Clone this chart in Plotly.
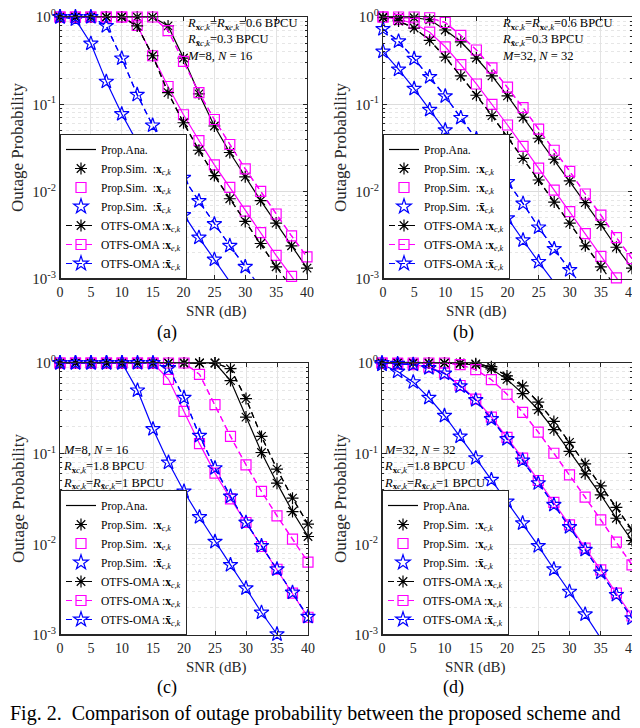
import plotly.graph_objects as go

# SNR grid (dB)
snr = [0, 2.5, 5, 7.5, 10, 12.5, 15, 17.5, 20, 22.5, 25, 27.5, 30, 32.5, 35, 37.5, 40]

# (a) M=8, N=16, low rates
a_prop_c = [1, 1, 1, 1, 1, 1, 1, 0.79, 0.339, 0.132, 0.0565, 0.0281, 0.0148, 0.0079, 0.00437, 0.0024, 0.00133]
a_prop_e = [1, 1, 1, 1, 1, 0.80, 0.36, 0.16, 0.076, 0.0385, 0.0203, 0.0112, 0.006, 0.00339, 0.00186, 0.00107, 0.00062]
a_prop_cb = [1, 0.94, 0.497, 0.182, 0.0774, 0.0369, 0.019, 0.0103, 0.0054, 0.00298, 0.00167, 0.00093, 0.0006, None, None, None, None]
a_oma_c = [1, 1, 1, 1, 1, 0.79, 0.36, 0.136, 0.0615, 0.0298, 0.0153, 0.0083, 0.00456, 0.00255, 0.00138, 0.0008, None]
a_oma_e = [1, 1, 1, 1, 1, 1, 1, 0.70, 0.311, 0.136, 0.067, 0.0347, 0.0182, 0.0101, 0.00555, 0.00311, 0.00179]
a_oma_cb = [1, 1, 1, 0.79, 0.336, 0.129, 0.0574, 0.0281, 0.0144, 0.00781, 0.00426, 0.0024, 0.00138, 0.00079, None, None, None]

# (b) M=32, N=32, low rates
b_prop_c = [1, 0.98, 0.98, 0.93, 0.71, 0.52, 0.339, 0.212, 0.125, 0.0711, 0.0409, 0.0235, 0.0133, 0.00748, 0.00419, 0.00231, 0.00133]
b_prop_e = [1, 0.94, 0.843, 0.67, 0.456, 0.285, 0.171, 0.1, 0.058, 0.033, 0.0186, 0.0104, 0.0059, 0.0033, 0.00182, 0.00103, 0.00058]
b_prop_cb = [0.402, 0.251, 0.151, 0.0865, 0.0506, 0.0286, 0.0164, 0.009, 0.00497, 0.00278, 0.00157, 0.00091, 0.00053, None, None, None, None]
b_oma_c = [0.98, 0.90, 0.748, 0.541, 0.347, 0.212, 0.127, 0.0742, 0.0419, 0.0241, 0.0136, 0.0076, 0.00437, 0.0024, 0.00138, 0.00079, None]
b_oma_e = [1, 1, 1, 0.98, 0.865, 0.615, 0.419, 0.262, 0.157, 0.0918, 0.0519, 0.0298, 0.0171, 0.0094, 0.0054, 0.00298, 0.00171]
b_oma_cb = [0.73, 0.527, 0.333, 0.206, 0.124, 0.07, 0.0402, 0.0231, 0.0129, 0.0073, 0.0039, 0.00221, 0.00127, 0.00074, None, None, None]

# (c) M=8, N=16, high rates
c_prop_c = [1, 1, 1, 1, 1, 1, 1, 1, 1, 1, 1, 0.64, 0.253, 0.103, 0.0473, 0.023, 0.0122]
c_prop_e = [1, 1, 1, 1, 1, 1, 1, 0.66, 0.293, 0.129, 0.061, 0.0318, 0.0174, 0.00946, 0.00531, 0.00289, 0.00157]
c_prop_cb = [1, 1, 1, 1, 1, 0.499, 0.187, 0.08, 0.0383, 0.02, 0.0107, 0.00593, 0.00328, 0.00177, 0.00102, 0.00056, None]
c_oma_c = [1, 1, 1, 1, 1, 1, 1, 1, 1, 1, 1, 0.865, 0.405, 0.155, 0.0676, 0.0323, 0.0167]
c_oma_e = [1, 1, 1, 1, 1, 1, 1, 1, 1, 0.75, 0.347, 0.155, 0.0754, 0.0383, 0.0206, 0.0114, 0.00635]
c_oma_cb = [1, 1, 1, 1, 1, 1, 1, 0.88, 0.414, 0.158, 0.0693, 0.0337, 0.0174, 0.0096, 0.00531, 0.00294, 0.00159]

# (d) M=32, N=32, high rates
d_prop_c = [1, 1, 1, 1, 1, 0.98, 0.96, 0.86, 0.66, 0.46, 0.305, 0.184, 0.106, 0.06, 0.0352, 0.0194, 0.011]
d_prop_e = [1, 0.98, 0.96, 0.90, 0.776, 0.565, 0.40, 0.253, 0.151, 0.0893, 0.0506, 0.029, 0.0164, 0.00906, 0.00522, 0.00289, 0.00162]
d_prop_cb = [0.96, 0.805, 0.615, 0.414, 0.262, 0.155, 0.0893, 0.0515, 0.0297, 0.0171, 0.0096, 0.00531, 0.00301, 0.00169, 0.00092, 0.00055, None]
d_oma_c = [1, 1, 1, 1, 1, 1, 0.98, 0.91, 0.72, 0.56, 0.37, 0.227, 0.133, 0.0773, 0.0442, 0.0255, 0.0144]
d_oma_e = [1, 1, 1, 1, 1, 0.96, 0.844, 0.655, 0.452, 0.285, 0.173, 0.101, 0.0585, 0.0331, 0.0186, 0.0106, 0.00593]
d_oma_cb = [1, 0.98, 0.96, 0.88, 0.765, 0.555, 0.39, 0.241, 0.145, 0.0842, 0.0473, 0.0273, 0.0155, 0.0087, 0.00489, 0.00277, 0.00153]

ytick_vals = [1e-3, 1e-2, 1e-1, 1]
ytick_text = ["10<sup>-3</sup>", "10<sup>-2</sup>", "10<sup>-1</sup>", "10<sup>0</sup>"]

FONT = "Liberation Serif"
BLACK, MAG, BLUE = "#000000", "#FF00FF", "#0000FF"
DASH = "6px,4px"
GREY = "#262626"

lbl_c = "<b>x</b><sub><i>c,k</i></sub>"
lbl_e = "<b>x</b><sub><i>e,k</i></sub>"
lbl_cb = "<b>x\u0304</b><sub><i>c,k</i></sub>"

fig = go.Figure()


def visible(xs, ys):
    # markers only where the value lies inside the y range
    px, py = [], []
    for x, y in zip(xs, ys):
        if y is not None and y >= 0.00095:
            px.append(x)
            py.append(y)
    return px, py


def add_panel(n, prop_c, prop_e, prop_cb, oma_c, oma_e, oma_cb):
    ax = "" if n == 1 else str(n)
    common = dict(xaxis="x" + ax, yaxis="y" + ax, legend="legend" + ax)

    # full curves, clipped by the axes (no legend)
    for ys, col in [(prop_e, MAG), (prop_cb, BLUE)]:
        fig.add_trace(go.Scatter(x=snr, y=ys, mode="lines", line=dict(color=col, width=1.2),
                                 showlegend=False, **common))
    for ys, col in [(oma_c, BLACK), (oma_e, MAG), (oma_cb, BLUE)]:
        fig.add_trace(go.Scatter(x=snr, y=ys, mode="lines", line=dict(color=col, width=1.2, dash=DASH),
                                 showlegend=False, **common))

    fig.add_trace(go.Scatter(x=snr, y=prop_c, mode="lines", name="Prop.Ana.",
                             line=dict(color=BLACK, width=1.2), **common))

    sims = [(prop_c, BLACK, "asterisk-open", 10, "Prop.Sim.  :" + lbl_c),
            (prop_e, MAG, "square-open", 10, "Prop.Sim.  :" + lbl_e),
            (prop_cb, BLUE, "star-open", 11, "Prop.Sim.  :" + lbl_cb)]
    for ys, col, sym, sz, name in sims:
        px, py = visible(snr, ys)
        fig.add_trace(go.Scatter(x=px, y=py, mode="markers", name=name, cliponaxis=False,
                                 marker=dict(symbol=sym, size=sz, color=col, line=dict(color=col, width=1.2)),
                                 **common))

    omas = [(oma_c, BLACK, "asterisk-open", 10, "OTFS-OMA :" + lbl_c),
            (oma_e, MAG, "square-open", 10, "OTFS-OMA :" + lbl_e),
            (oma_cb, BLUE, "star-open", 11, "OTFS-OMA :" + lbl_cb)]
    for ys, col, sym, sz, name in omas:
        px, py = visible(snr, ys)
        fig.add_trace(go.Scatter(x=px, y=py, mode="lines+markers", name=name, cliponaxis=False,
                                 line=dict(color=col, width=1.2, dash=DASH),
                                 marker=dict(symbol=sym, size=sz, color=col, line=dict(color=col, width=1.2)),
                                 **common))


add_panel(1, a_prop_c, a_prop_e, a_prop_cb, a_oma_c, a_oma_e, a_oma_cb)
add_panel(2, b_prop_c, b_prop_e, b_prop_cb, b_oma_c, b_oma_e, b_oma_cb)
add_panel(3, c_prop_c, c_prop_e, c_prop_cb, c_oma_c, c_oma_e, c_oma_cb)
add_panel(4, d_prop_c, d_prop_e, d_prop_cb, d_oma_c, d_oma_e, d_oma_cb)

# the page body adds an 8px margin, so the figure is 8px smaller and shifted
OFF = 8
W, H = 640 - OFF, 728 - OFF


def fx(x):
    return (x - OFF) / W


def fy(y):
    return 1 - (y - OFF) / H


panels = {
    1: dict(x=(60, 307), y=(17, 279)),
    2: dict(x=(383, 632), y=(17, 279)),
    3: dict(x=(60, 308), y=(363, 635)),
    4: dict(x=(382, 632), y=(363, 635)),
}

layout = dict(
    width=W, height=H, margin=dict(l=0, r=0, t=0, b=0, autoexpand=False),
    paper_bgcolor="white", plot_bgcolor="white",
    font=dict(family=FONT, size=13, color=GREY),
    annotations=[],
)

for n, p in panels.items():
    ax = "" if n == 1 else str(n)
    x0, x1 = p["x"]
    y0, y1 = p["y"]
    layout["xaxis" + ax] = dict(
        domain=[fx(x0), fx(x1)], anchor="y" + ax, range=[0, 40], tick0=0, dtick=5,
        showgrid=True, gridcolor="#E3E3E3", gridwidth=1, zeroline=False,
        showline=True, linecolor=GREY, linewidth=1, mirror="ticks",
        ticks="inside", ticklen=4, tickcolor=GREY, ticklabeloverflow="allow",
        tickfont=dict(family=FONT, size=14, color=GREY),
    )
    layout["yaxis" + ax] = dict(
        domain=[fy(y1), fy(y0)], anchor="x" + ax, type="log", range=[-3, 0],
        tickvals=ytick_vals, ticktext=ytick_text, ticklabeloverflow="allow",
        showgrid=True, gridcolor="#DCDCDC", gridwidth=1, zeroline=False,
        showline=True, linecolor=GREY, linewidth=1, mirror="ticks",
        ticks="inside", ticklen=4, tickcolor=GREY,
        tickfont=dict(family=FONT, size=15, color=GREY),
        minor=dict(dtick="D1", ticks="inside", ticklen=2, tickcolor=GREY,
                   showgrid=True, gridcolor="#E6E6E6", griddash="dot"),
    )
    layout["legend" + ax] = dict(
        x=fx(x0), y=fy(y1), xanchor="left", yanchor="bottom",
        bgcolor="white", bordercolor=GREY, borderwidth=1,
        font=dict(family=FONT, size=11.5, color="#000000"),
        itemwidth=30, tracegroupgap=0,
    )
    layout["annotations"].append(dict(
        x=fx((x0 + x1) / 2), y=fy(y1 + 32), xref="paper", yref="paper",
        yanchor="middle", text="SNR (dB)", showarrow=False,
        font=dict(family=FONT, size=15, color=GREY)))
    layout["annotations"].append(dict(
        x=fx(x0 - 42), y=fy((y0 + y1) / 2), xref="paper", yref="paper",
        xanchor="center", yanchor="middle",
        text="Outage Probability", textangle=-90, showarrow=False,
        font=dict(family=FONT, size=17, color=GREY)))

# sub-figure labels
for txt, xc, yc in [("(a)", 155, 333), ("(b)", 476, 333), ("(c)", 155, 687), ("(d)", 466, 687)]:
    layout["annotations"].append(dict(x=fx(xc), y=fy(yc), xref="paper", yref="paper",
                                      yanchor="middle", text=txt, showarrow=False,
                                      font=dict(family=FONT, size=18, color="#000000")))

# parameter notes (one text block per panel)
R = "<i>R</i>"
notes_top = [
    R + "<sub><b>x</b><i>c,k</i></sub>=" + R + "<sub><b>x</b><i>e,k</i></sub>=0.6 BPCU",
    R + "<sub><b>x\u0304</b><i>c,k</i></sub>=0.3 BPCU",
]
notes_bot = [
    R + "<sub><b>x</b><i>c,k</i></sub>=1.8 BPCU",
    R + "<sub><b>x</b><i>e,k</i></sub>=" + R + "<sub><b>x\u0304</b><i>c,k</i></sub>=1 BPCU",
]
placements = [
    (185, 40, notes_top + ["<i>M</i>=8, <i>N</i> = 16"]),
    (500, 40, notes_top + ["<i>M</i>=32, <i>N</i> = 32"]),
    (61, 467, ["<i>M</i>=8, <i>N</i> = 16"] + notes_bot),
    (382, 467, ["<i>M</i>=32, <i>N</i> = 32"] + notes_bot),
]
for xl, yc, texts in placements:
    layout["annotations"].append(dict(x=fx(xl), y=fy(yc), xref="paper", yref="paper",
                                      xanchor="left", yanchor="middle", align="left",
                                      text="<br>".join(texts), showarrow=False,
                                      font=dict(family=FONT, size=12.5, color="#000000")))

# caption
layout["annotations"].append(dict(
    x=0, y=fy(713), xref="paper", yref="paper", xanchor="left", yanchor="middle",
    text="Fig. 2.  Comparison of outage probability between the proposed scheme and",
    showarrow=False, font=dict(family=FONT, size=20, color="#000000")))

fig.update_layout(**layout)
fig.write_html("out.html")
